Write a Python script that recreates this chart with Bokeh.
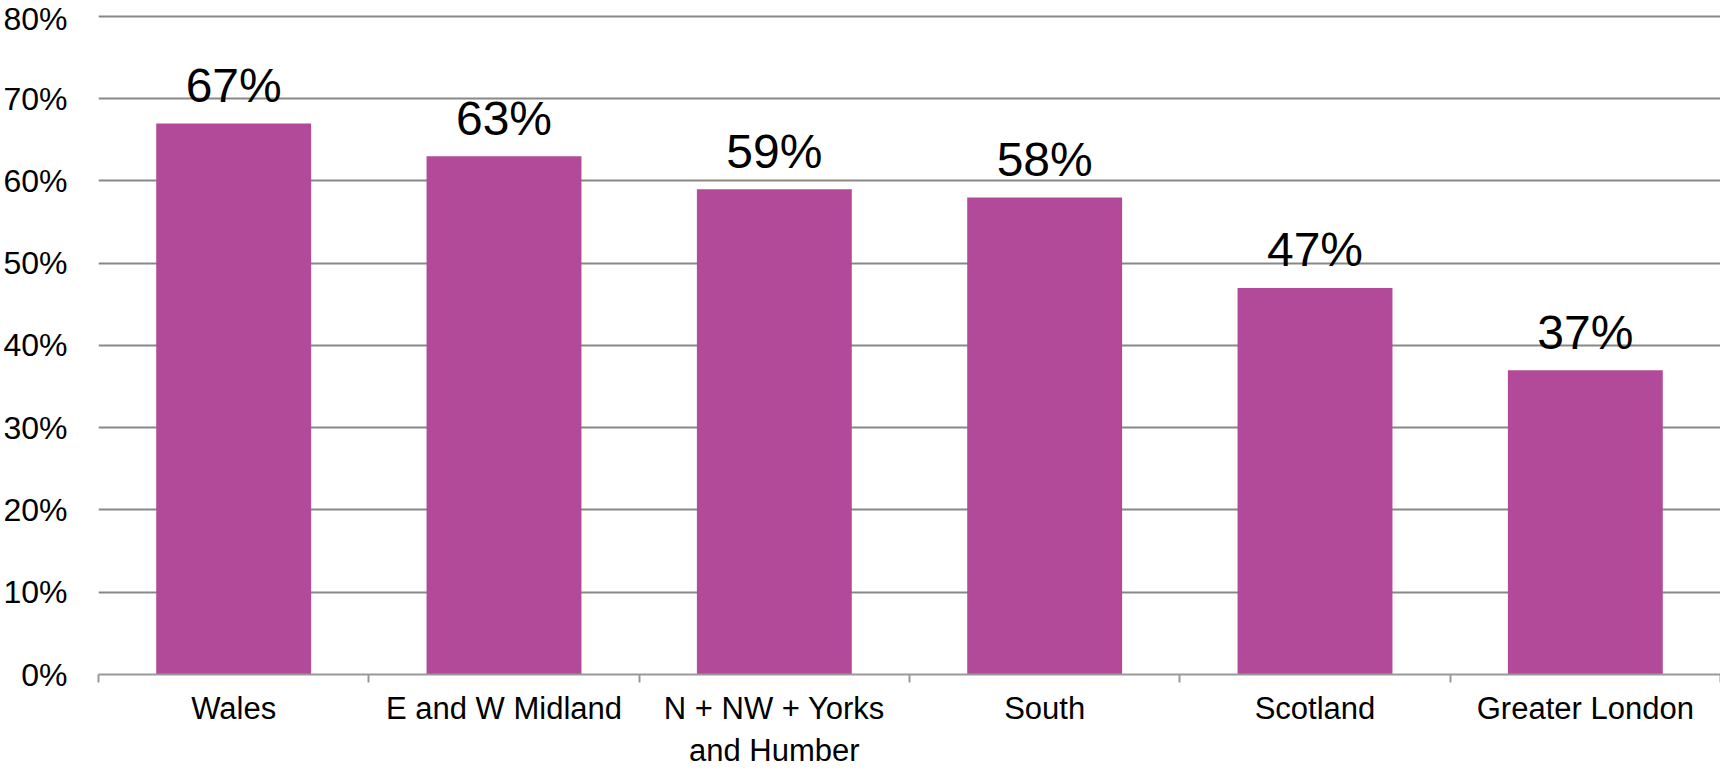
from bokeh.plotting import figure
from bokeh.models import FixedTicker, Range1d, ColumnDataSource, NumeralTickFormatter
from bokeh.core.properties import value
from bokeh.embed import file_html
from bokeh.resources import INLINE

categories = ["Wales", "E and W Midland", "N + NW + Yorks\nand Humber", "South", "Scotland", "Greater London"]
shares = [0.67, 0.63, 0.59, 0.58, 0.47, 0.37]
share_labels = ["67%", "63%", "59%", "58%", "47%", "37%"]
y_ticks = [0.0, 0.1, 0.2, 0.3, 0.4, 0.5, 0.6, 0.7, 0.8]

FONT = "Liberation Sans"
BAR = "#B34A99"

n = len(categories)
centers = [i + 0.5 for i in range(n)]
src = ColumnDataSource(dict(x=centers, top=shares, lab=share_labels))

p = figure(width=1720, height=770, output_backend="svg", toolbar_location=None,
           x_range=Range1d(0, n), y_range=Range1d(0, 0.8097),
           min_border_top=8, min_border_right=0, min_border_left=96, min_border_bottom=0)
p.outline_line_color = None
p.background_fill_color = "white"
p.border_fill_color = "white"

p.vbar(x="x", top="top", width=0.573, bottom=0, source=src, fill_color=BAR, line_color=None)
p.text(x="x", y="top", text="lab", source=src, text_align="center", text_baseline="alphabetic",
       y_offset=-38, text_font=value(FONT), text_font_size="48px", text_color="black")

# x axis
xa = p.xaxis[0]
xa.ticker = FixedTicker(ticks=centers, minor_ticks=list(range(n + 1)))
xa.major_label_overrides = {c: lab for c, lab in zip(centers, categories)}
xa.major_tick_line_color = None
xa.major_tick_out = 0
xa.major_tick_in = 0
xa.minor_tick_line_color = "#999999"
xa.minor_tick_line_width = 2
xa.minor_tick_out = 8
xa.minor_tick_in = 0
xa.axis_line_color = "#999999"
xa.axis_line_width = 2
xa.major_label_text_font = FONT
xa.major_label_text_font_size = "31px"
xa.major_label_text_color = "black"
xa.major_label_standoff = 8
xa.major_label_orientation = "horizontal"

# y axis
ya = p.yaxis[0]
ya.ticker = FixedTicker(ticks=y_ticks)
ya.formatter = NumeralTickFormatter(format="0%")
ya.axis_line_color = None
ya.major_tick_line_color = None
ya.minor_tick_line_color = None
ya.major_tick_out = 0
ya.major_tick_in = 0
ya.major_label_text_font = FONT
ya.major_label_text_font_size = "32px"
ya.major_label_text_color = "black"
ya.major_label_standoff = 31

p.xgrid.grid_line_color = None
p.ygrid.ticker = FixedTicker(ticks=y_ticks[1:])
p.ygrid.grid_line_color = "#888888"
p.ygrid.grid_line_width = 2

open("out.html", "w").write(file_html(p, INLINE))
